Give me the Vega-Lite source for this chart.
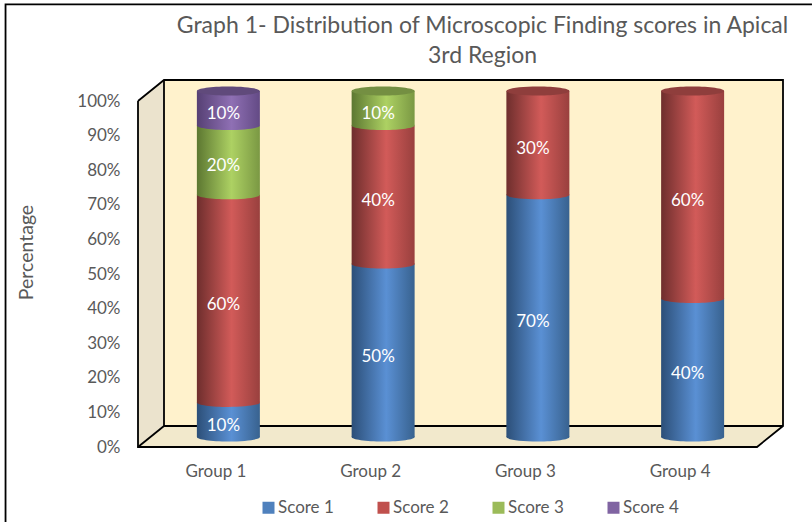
{
"$schema":"https://vega.github.io/schema/vega-lite/v6.json",
"autosize":"none",
"width":645,"height":367,
"padding":{"left":138,"top":80,"right":29,"bottom":75},
"background":"white",
"config":{"font":"Lato","view":{"stroke":null},"axis":{"labelOverlap":false,"labelSeparation":0}},
"title":{"text":["Graph 1- Distribution of Microscopic Finding scores in Apical","3rd Region"],"fontSize":23,"fontWeight":"normal","color":"#595959","font":"Lato","anchor":"middle","frame":"group","dx":22,"offset":-67,"lineHeight":30},
"datasets":{
"rows":[
{"group":1,"score":"Score 1","start":0,"end":10,"mid":5,"label":"10%","top":false},
{"group":1,"score":"Score 2","start":10,"end":70,"mid":40,"label":"60%","top":false},
{"group":1,"score":"Score 3","start":70,"end":90,"mid":80,"label":"20%","top":false},
{"group":1,"score":"Score 4","start":90,"end":100,"mid":95,"label":"10%","top":true},
{"group":2,"score":"Score 1","start":0,"end":50,"mid":25,"label":"50%","top":false},
{"group":2,"score":"Score 2","start":50,"end":90,"mid":70,"label":"40%","top":false},
{"group":2,"score":"Score 3","start":90,"end":100,"mid":95,"label":"10%","top":true},
{"group":3,"score":"Score 1","start":0,"end":70,"mid":35,"label":"70%","top":false},
{"group":3,"score":"Score 2","start":70,"end":100,"mid":85,"label":"30%","top":true},
{"group":4,"score":"Score 1","start":0,"end":40,"mid":20,"label":"40%","top":false},
{"group":4,"score":"Score 2","start":40,"end":100,"mid":70,"label":"60%","top":true}
],
"side":[{"x":0.5,"lo":0,"hi":100},{"x":0.668,"lo":6.07,"hi":106.07}],
"floor":[{"y":0,"a":0.5,"b":4.5},{"y":6.07,"a":0.668,"b":4.668}],
"back":[{"x":0.668,"lo":6.07,"hi":106.07},{"x":4.668,"lo":6.07,"hi":106.07}],
"edges":[
{"e":"a","k":1,"x":0.5,"y":100},{"e":"a","k":2,"x":0.5,"y":0},{"e":"a","k":3,"x":4.5,"y":0},{"e":"a","k":4,"x":4.668,"y":6.07},{"e":"a","k":5,"x":4.668,"y":106.07},{"e":"a","k":6,"x":0.668,"y":106.07},{"e":"a","k":7,"x":0.5,"y":100},
{"e":"b","k":1,"x":0.668,"y":106.07},{"e":"b","k":2,"x":0.668,"y":6.07},{"e":"b","k":3,"x":4.668,"y":6.07},
{"e":"c","k":1,"x":0.5,"y":0},{"e":"c","k":2,"x":0.668,"y":6.07},
{"e":"d","k":1,"x":-0.356,"y":-21.7},{"e":"d","k":2,"x":-0.356,"y":127.9},{"e":"d","k":3,"x":4.855,"y":127.9}
]
},
"layer":[
{"data":{"name":"side"},"mark":{"type":"area","color":"#ebe3cd","orient":"vertical"},
 "encoding":{"x":{"field":"x","type":"quantitative","scale":{"domain":[0.5,4.668],"nice":false,"zero":false,"padding":0},
   "axis":{"values":[1,2,3,4],"labelExpr":"'Group ' + datum.value","title":null,"domain":false,"ticks":false,"grid":false,"labelFontSize":17,"labelColor":"#595959","labelPadding":16,"labelFont":"Lato"}},
  "y":{"field":"lo","type":"quantitative","scale":{"domain":[0,106.07],"nice":false,"zero":false},
   "axis":{"values":[0,10,20,30,40,50,60,70,80,90,100],"tickCount":11,"labelOverlap":false,"labelExpr":"datum.value + '%'","title":"Percentage","domain":false,"ticks":false,"grid":false,"labelFontSize":17,"labelColor":"#595959","labelPadding":18,"labelFont":"Lato","titleFontSize":19.5,"titleFontWeight":"normal","titleColor":"#595959","titleFont":"Lato","titleX":-102,"titleY":172}},
  "y2":{"field":"hi"}}},
{"data":{"name":"back"},"mark":{"type":"area","color":"#fff2cc","orient":"vertical"},
 "encoding":{"x":{"field":"x","type":"quantitative"},"y":{"field":"lo","type":"quantitative"},"y2":{"field":"hi"}}},
{"data":{"name":"floor"},"mark":{"type":"area","color":"#f2e9cc","orient":"horizontal"},
 "encoding":{"y":{"field":"y","type":"quantitative"},"x":{"field":"a","type":"quantitative"},"x2":{"field":"b"}}},
{"data":{"name":"edges"},"mark":{"type":"line","color":"#000000","strokeWidth":1.8},
 "encoding":{"x":{"field":"x","type":"quantitative"},"y":{"field":"y","type":"quantitative"},"detail":{"field":"e"},"order":{"field":"k","type":"quantitative"}}},
{"data":{"name":"rows"},"mark":{"type":"bar","width":60,"xOffset":13,"yOffset":-10,"y2Offset":-10},
 "encoding":{"x":{"field":"group","type":"quantitative"},"y":{"field":"start","type":"quantitative"},"y2":{"field":"end"},
  "color":{"field":"score","type":"nominal","scale":{"domain":["Score 1","Score 2","Score 3","Score 4"],"range":["#4f81bd","#c0504d","#9bbb59","#8064a2"]},
  "legend":{"title":null,"orient":"none","legendX":122,"legendY":419,"direction":"horizontal","columns":4,"symbolType":"square","symbolSize":144,"symbolStrokeWidth":0,"labelFontSize":17,"labelColor":"#595959","labelFont":"Lato","columnPadding":41,"labelOffset":1}}}},
{"data":{"name":"rows"},"transform":[{"filter":"datum.score === 'Score 1'"}],"mark":{"type":"bar","width":63,"xOffset":13,"yOffset":-10,"y2Offset":-10,"fill":{"x1":0,"x2":1,"y1":0,"y2":0,"gradient":"linear","stops":[{"offset":0,"color":"#2c4f78"},{"offset":0.55,"color":"#5a90d4"},{"offset":1,"color":"#38628f"}]}},
 "encoding":{"x":{"field":"group","type":"quantitative"},"y":{"field":"start","type":"quantitative"},"y2":{"field":"end"}}},
{"data":{"name":"rows"},"transform":[{"filter":"datum.score === 'Score 1'"}],"mark":{"type":"point","filled":true,"opacity":1,"size":3969,"strokeWidth":0,"xOffset":13,"yOffset":-10,"shape":"M-1,0C-1,-0.079,-0.5523,-0.143,0,-0.143C0.5523,-0.143,1,-0.079,1,0C1,0.079,0.5523,0.143,0,0.143C-0.5523,0.143,-1,0.079,-1,0Z","fill":{"x1":0,"x2":1,"y1":0,"y2":0,"gradient":"linear","stops":[{"offset":0,"color":"#2c4f78"},{"offset":0.55,"color":"#5a90d4"},{"offset":1,"color":"#38628f"}]}},
 "encoding":{"x":{"field":"group","type":"quantitative"},"y":{"field":"start","type":"quantitative"}}},
{"data":{"name":"rows"},"transform":[{"filter":"datum.score === 'Score 2'"}],"mark":{"type":"bar","width":63,"xOffset":13,"yOffset":-10,"y2Offset":-10,"fill":{"x1":0,"x2":1,"y1":0,"y2":0,"gradient":"linear","stops":[{"offset":0,"color":"#6e2e2d"},{"offset":0.55,"color":"#d25b59"},{"offset":1,"color":"#99403e"}]}},
 "encoding":{"x":{"field":"group","type":"quantitative"},"y":{"field":"start","type":"quantitative"},"y2":{"field":"end"}}},
{"data":{"name":"rows"},"transform":[{"filter":"datum.score === 'Score 2'"}],"mark":{"type":"point","filled":true,"opacity":1,"size":3969,"strokeWidth":0,"xOffset":13,"yOffset":-10,"shape":"M-1,0C-1,-0.079,-0.5523,-0.143,0,-0.143C0.5523,-0.143,1,-0.079,1,0C1,0.079,0.5523,0.143,0,0.143C-0.5523,0.143,-1,0.079,-1,0Z","fill":{"x1":0,"x2":1,"y1":0,"y2":0,"gradient":"linear","stops":[{"offset":0,"color":"#6e2e2d"},{"offset":0.55,"color":"#d25b59"},{"offset":1,"color":"#99403e"}]}},
 "encoding":{"x":{"field":"group","type":"quantitative"},"y":{"field":"start","type":"quantitative"}}},
{"data":{"name":"rows"},"transform":[{"filter":"datum.score === 'Score 3'"}],"mark":{"type":"bar","width":63,"xOffset":13,"yOffset":-10,"y2Offset":-10,"fill":{"x1":0,"x2":1,"y1":0,"y2":0,"gradient":"linear","stops":[{"offset":0,"color":"#5c7731"},{"offset":0.55,"color":"#add163"},{"offset":1,"color":"#7a9843"}]}},
 "encoding":{"x":{"field":"group","type":"quantitative"},"y":{"field":"start","type":"quantitative"},"y2":{"field":"end"}}},
{"data":{"name":"rows"},"transform":[{"filter":"datum.score === 'Score 3'"}],"mark":{"type":"point","filled":true,"opacity":1,"size":3969,"strokeWidth":0,"xOffset":13,"yOffset":-10,"shape":"M-1,0C-1,-0.079,-0.5523,-0.143,0,-0.143C0.5523,-0.143,1,-0.079,1,0C1,0.079,0.5523,0.143,0,0.143C-0.5523,0.143,-1,0.079,-1,0Z","fill":{"x1":0,"x2":1,"y1":0,"y2":0,"gradient":"linear","stops":[{"offset":0,"color":"#5c7731"},{"offset":0.55,"color":"#add163"},{"offset":1,"color":"#7a9843"}]}},
 "encoding":{"x":{"field":"group","type":"quantitative"},"y":{"field":"start","type":"quantitative"}}},
{"data":{"name":"rows"},"transform":[{"filter":"datum.score === 'Score 4'"}],"mark":{"type":"bar","width":63,"xOffset":13,"yOffset":-10,"y2Offset":-10,"fill":{"x1":0,"x2":1,"y1":0,"y2":0,"gradient":"linear","stops":[{"offset":0,"color":"#564074"},{"offset":0.55,"color":"#8f70b4"},{"offset":1,"color":"#634a85"}]}},
 "encoding":{"x":{"field":"group","type":"quantitative"},"y":{"field":"start","type":"quantitative"},"y2":{"field":"end"}}},
{"data":{"name":"rows"},"transform":[{"filter":"datum.score === 'Score 4'"}],"mark":{"type":"point","filled":true,"opacity":1,"size":3969,"strokeWidth":0,"xOffset":13,"yOffset":-10,"shape":"M-1,0C-1,-0.079,-0.5523,-0.143,0,-0.143C0.5523,-0.143,1,-0.079,1,0C1,0.079,0.5523,0.143,0,0.143C-0.5523,0.143,-1,0.079,-1,0Z","fill":{"x1":0,"x2":1,"y1":0,"y2":0,"gradient":"linear","stops":[{"offset":0,"color":"#564074"},{"offset":0.55,"color":"#8f70b4"},{"offset":1,"color":"#634a85"}]}},
 "encoding":{"x":{"field":"group","type":"quantitative"},"y":{"field":"start","type":"quantitative"}}},
{"data":{"name":"rows"},"transform":[{"filter":"datum.top && datum.score === 'Score 2'"}],"mark":{"type":"point","filled":true,"opacity":1,"size":3969,"strokeWidth":0,"xOffset":13,"yOffset":-10,"shape":"M-1,0C-1,-0.079,-0.5523,-0.143,0,-0.143C0.5523,-0.143,1,-0.079,1,0C1,0.079,0.5523,0.143,0,0.143C-0.5523,0.143,-1,0.079,-1,0Z","fill":"#8f3e3c"},
 "encoding":{"x":{"field":"group","type":"quantitative"},"y":{"field":"end","type":"quantitative"}}},
{"data":{"name":"rows"},"transform":[{"filter":"datum.top && datum.score === 'Score 3'"}],"mark":{"type":"point","filled":true,"opacity":1,"size":3969,"strokeWidth":0,"xOffset":13,"yOffset":-10,"shape":"M-1,0C-1,-0.079,-0.5523,-0.143,0,-0.143C0.5523,-0.143,1,-0.079,1,0C1,0.079,0.5523,0.143,0,0.143C-0.5523,0.143,-1,0.079,-1,0Z","fill":"#748f42"},
 "encoding":{"x":{"field":"group","type":"quantitative"},"y":{"field":"end","type":"quantitative"}}},
{"data":{"name":"rows"},"transform":[{"filter":"datum.top && datum.score === 'Score 4'"}],"mark":{"type":"point","filled":true,"opacity":1,"size":3969,"strokeWidth":0,"xOffset":13,"yOffset":-10,"shape":"M-1,0C-1,-0.079,-0.5523,-0.143,0,-0.143C0.5523,-0.143,1,-0.079,1,0C1,0.079,0.5523,0.143,0,0.143C-0.5523,0.143,-1,0.079,-1,0Z","fill":"#604a7b"},
 "encoding":{"x":{"field":"group","type":"quantitative"},"y":{"field":"end","type":"quantitative"}}},
{"data":{"name":"rows"},"mark":{"type":"text","color":"#ffffff","fontSize":17,"font":"Lato","dx":8,"dy":-4},
 "encoding":{"x":{"field":"group","type":"quantitative"},"y":{"field":"mid","type":"quantitative"},"text":{"field":"label"}}}
]
}
